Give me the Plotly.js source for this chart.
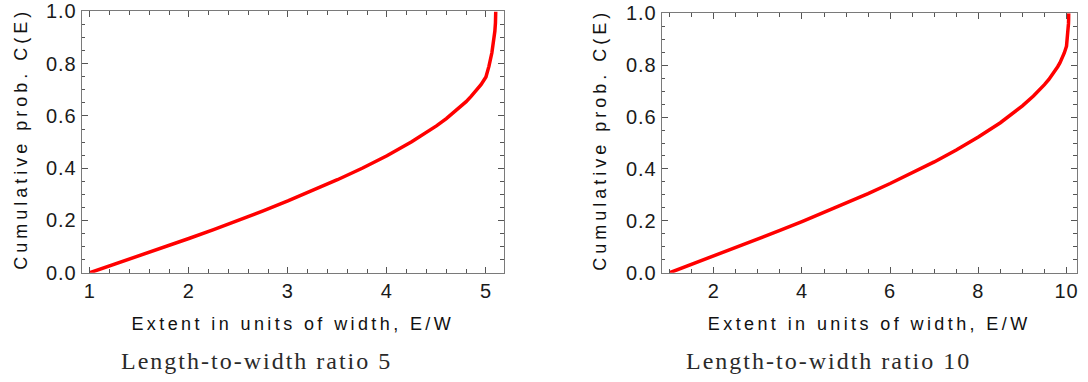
<!DOCTYPE html>
<html>
<head>
<meta charset="utf-8">
<script src="https://cdn.plot.ly/plotly-3.0.1.min.js"></script>
<style>
html, body { margin: 0; padding: 0; background: #ffffff; }
#chart { width: 1088px; height: 382px; }
.xtick text, .x2tick text, .ytick text, .y2tick text { letter-spacing: 1px; }
</style>
</head>
<body>
<div id="chart"></div>
<script>
// ---- data ----
const extent5 = [1, 1.25, 1.5, 1.75, 2, 2.25, 2.5, 2.75, 3, 3.25, 3.5, 3.75, 4, 4.25, 4.4, 4.5, 4.6, 4.7, 4.75, 4.8, 4.85, 4.9, 4.95, 5, 5.015, 5.03, 5.06, 5.08, 5.09, 5.096, 5.098, 5.099];
const cum5 = [0, 0.032, 0.064, 0.097, 0.131, 0.165, 0.2, 0.237, 0.275, 0.314, 0.356, 0.4, 0.448, 0.501, 0.537, 0.562, 0.59, 0.621, 0.638, 0.655, 0.675, 0.696, 0.72, 0.749, 0.769, 0.79, 0.842, 0.89, 0.924, 0.956, 0.975, 1];

const extent10 = [1, 1.5, 2, 2.5, 3, 3.5, 4, 4.5, 5, 5.5, 6, 6.5, 7, 7.5, 8, 8.5, 8.75, 9, 9.25, 9.4, 9.5, 9.6, 9.7, 9.75, 9.8, 9.85, 9.9, 9.95, 10, 10.01, 10.02, 10.035, 10.045, 10.048, 10.05];
const cum10 = [0, 0.032, 0.064, 0.097, 0.13, 0.163, 0.197, 0.232, 0.268, 0.305, 0.344, 0.384, 0.427, 0.473, 0.523, 0.578, 0.609, 0.643, 0.681, 0.706, 0.725, 0.745, 0.768, 0.781, 0.794, 0.809, 0.827, 0.847, 0.873, 0.887, 0.902, 0.931, 0.96, 0.975, 1];

const xTicks5 = [1, 2, 3, 4, 5];
const xTickLabels5 = ['1', '2', '3', '4', '5'];
const xTicks10 = [2, 4, 6, 8, 10];
const xTickLabels10 = ['2', '4', '6', '8', '10'];
const yTicks = [0, 0.2, 0.4, 0.6, 0.8, 1.0];
const yTickLabels = ['0.0', '0.2', '0.4', '0.6', '0.8', '1.0'];

const xTitle = 'Extent in units of width, E/W';
const yTitle = 'Cumulative prob. C(E)';
const captions = ['Length-to-width ratio 5', 'Length-to-width ratio 10'];

// ---- styling ----
const sans = 'Liberation Sans, Arial, Helvetica, sans-serif';
const serif = 'Liberation Serif, Times New Roman, serif';
const spaced = (t, s) => '<span style="letter-spacing:' + s + 'px">' + t + '</span>';

function axisBase() {
  return {
    showline: true, linecolor: '#7a7a7a', linewidth: 1, mirror: 'ticks',
    ticks: 'inside', ticklen: 6, tickwidth: 1, tickcolor: '#555555',
    showgrid: false, zeroline: false, fixedrange: true,
    tickfont: { family: sans, size: 20, color: '#1a1a1a' },
    minor: { ticks: 'inside', ticklen: 3.5, tickwidth: 1, tickcolor: '#555555', showgrid: false }
  };
}

const titleFont = { family: sans, size: 18, color: '#111111' };

const xa1 = Object.assign(axisBase(), {
  domain: [0.0751, 0.4632], range: [0.918, 5.182], anchor: 'y',
  tickmode: 'array', tickvals: xTicks5, ticktext: xTickLabels5,
  title: { text: spaced(xTitle, 3.4), font: titleFont, standoff: 16 }
});
xa1.minor.dtick = 0.2; xa1.minor.tick0 = 0;

const xa2 = Object.assign(axisBase(), {
  domain: [0.6082, 0.9896], range: [0.819, 10.231], anchor: 'y2',
  tickmode: 'array', tickvals: xTicks10, ticktext: xTickLabels10,
  title: { text: spaced(xTitle, 3.4), font: titleFont, standoff: 16 }
});
xa2.minor.dtick = 0.5; xa2.minor.tick0 = 0;

const ya1 = Object.assign(axisBase(), {
  domain: [0.2861, 0.9699], range: [0, 1], anchor: 'x',
  tickmode: 'array', tickvals: yTicks, ticktext: yTickLabels
});
ya1.minor.dtick = 0.05; ya1.minor.tick0 = 0;

const ya2 = Object.assign(axisBase(), {
  domain: [0.2861, 0.9652], range: [0, 1], anchor: 'x2',
  tickmode: 'array', tickvals: yTicks, ticktext: yTickLabels
});
ya2.minor.dtick = 0.05; ya2.minor.tick0 = 0;

const traces = [
  { x: extent5, y: cum5, xaxis: 'x', yaxis: 'y', type: 'scatter', mode: 'lines',
    line: { color: '#ff0000', width: 3.5 }, hoverinfo: 'skip' },
  { x: extent10, y: cum10, xaxis: 'x2', yaxis: 'y2', type: 'scatter', mode: 'lines',
    line: { color: '#ff0000', width: 3.5 }, hoverinfo: 'skip' }
];

function yTitleAnn(xPaper, yPaper) {
  return { text: spaced(yTitle, 4), xref: 'paper', yref: 'paper', x: xPaper, y: yPaper,
    xanchor: 'center', yanchor: 'middle', textangle: -90, showarrow: false, font: titleFont };
}
function captionAnn(xPaper, txt) {
  return { text: spaced(txt, 2), xref: 'paper', yref: 'paper', x: xPaper, y: 0.055,
    xanchor: 'center', yanchor: 'middle', showarrow: false,
    font: { family: serif, size: 24, color: '#2a2a2a' } };
}

const layout = {
  width: 1088, height: 382,
  margin: { l: 0, r: 0, t: 0, b: 0, pad: 0 },
  paper_bgcolor: '#ffffff', plot_bgcolor: '#ffffff',
  showlegend: false,
  xaxis: xa1, yaxis: ya1, xaxis2: xa2, yaxis2: ya2,
  annotations: [
    yTitleAnn(0.0190, 0.6360),
    yTitleAnn(0.5520, 0.6330),
    captionAnn(0.2353, captions[0]),
    captionAnn(0.7619, captions[1])
  ]
};

Plotly.newPlot('chart', traces, layout, { staticPlot: true, displayModeBar: false });
</script>
</body>
</html>
